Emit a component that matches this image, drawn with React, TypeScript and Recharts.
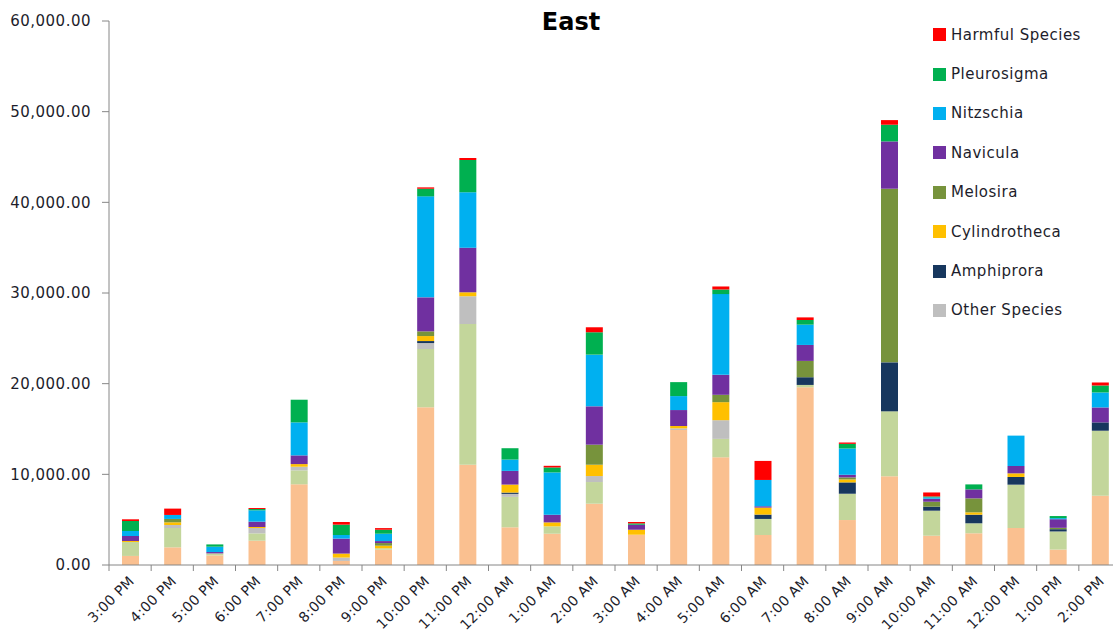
import React from 'react';
import { BarChart, Bar, XAxis, YAxis } from 'recharts';

// hourly sampling slots, East station
const hours = [
  '3:00 PM', '4:00 PM', '5:00 PM', '6:00 PM', '7:00 PM', '8:00 PM', '9:00 PM', '10:00 PM',
  '11:00 PM', '12:00 AM', '1:00 AM', '2:00 AM', '3:00 AM', '4:00 AM', '5:00 AM', '6:00 AM',
  '7:00 AM', '8:00 AM', '9:00 AM', '10:00 AM', '11:00 AM', '12:00 PM', '1:00 PM', '2:00 PM',
];

// cell counts per series, bottom of the stack first
const groupA = [1000, 1950, 1060, 2680, 8900, 450, 1690, 17390, 11060, 4160, 3450, 6760, 3340, 14890, 11880, 3310, 19600, 4960, 9780, 3230, 3500, 4080, 1700, 7640];
const groupB = [1540, 2130, 220, 810, 1540, 0, 150, 6430, 15520, 3350, 810, 2390, 0, 0, 2030, 1770, 260, 2900, 7170, 2760, 1100, 4780, 2000, 7170];
const otherSpecies = [0, 330, 0, 590, 400, 370, 0, 660, 3060, 330, 0, 660, 0, 180, 2060, 0, 0, 0, 0, 0, 0, 0, 0, 0];
const amphiprora = [0, 0, 0, 0, 0, 0, 0, 220, 0, 150, 0, 0, 0, 0, 0, 480, 850, 1250, 5400, 440, 950, 850, 250, 920];
const cylindrotheca = [110, 300, 0, 110, 290, 440, 290, 550, 440, 880, 440, 1250, 550, 260, 1990, 770, 0, 330, 0, 0, 260, 400, 0, 0];
const melosira = [0, 370, 0, 0, 0, 0, 290, 520, 0, 0, 0, 2210, 0, 0, 810, 0, 1800, 220, 19150, 550, 1540, 0, 150, 0];
const navicula = [550, 0, 150, 590, 960, 1650, 220, 3750, 4920, 1510, 840, 4230, 550, 1760, 2210, 150, 1760, 290, 5220, 330, 990, 810, 950, 1650];
const nitzschia = [550, 440, 590, 1250, 3640, 400, 810, 11140, 6110, 1250, 4670, 5700, 0, 1540, 8900, 2900, 2240, 2900, 0, 150, 0, 3350, 120, 1650];
const pleurosigma = [1100, 0, 250, 150, 2500, 1140, 440, 840, 3560, 1250, 550, 2470, 150, 1540, 510, 0, 510, 510, 1840, 100, 550, 0, 230, 770];
const harmful = [190, 700, 0, 110, 0, 290, 180, 150, 220, 0, 180, 550, 150, 0, 330, 2100, 290, 150, 510, 440, 0, 0, 0, 330];

const series = [
  { key: 'groupA', name: 'Group A', color: '#FAC090', values: groupA, legend: false },
  { key: 'groupB', name: 'Group B', color: '#C3D69B', values: groupB, legend: false },
  { key: 'other', name: 'Other Species', color: '#BFBFBF', values: otherSpecies, legend: true },
  { key: 'amphiprora', name: 'Amphiprora', color: '#17375E', values: amphiprora, legend: true },
  { key: 'cylindrotheca', name: 'Cylindrotheca', color: '#FFC000', values: cylindrotheca, legend: true },
  { key: 'melosira', name: 'Melosira', color: '#77933C', values: melosira, legend: true },
  { key: 'navicula', name: 'Navicula', color: '#7030A0', values: navicula, legend: true },
  { key: 'nitzschia', name: 'Nitzschia', color: '#00B0F0', values: nitzschia, legend: true },
  { key: 'pleurosigma', name: 'Pleurosigma', color: '#00B050', values: pleurosigma, legend: true },
  { key: 'harmful', name: 'Harmful Species', color: '#FF0000', values: harmful, legend: true },
];

const yTicks = [0, 10000, 20000, 30000, 40000, 50000, 60000];

const rows = hours.map((hour, i) => {
  const row: Record<string, string | number> = { hour };
  series.forEach((s) => {
    row[s.key] = s.values[i];
  });
  return row;
});

const FONT = '"DejaVu Sans", Verdana, sans-serif';
const TEXT = '#1d1d2b';
const AXIS = '#868686';
const STEP = 1012 / hours.length;

const fmt = (v: number) =>
  v.toLocaleString('en-US', { minimumFractionDigits: 2, maximumFractionDigits: 2 });

// category label rotated 45deg, plus a tick mark on the left edge of each slot
const HourTick = (props: any) => {
  const { x, y, payload, index } = props;
  const left = x - STEP / 2;
  const tx = x + 5;
  const ty = y + 9;
  return (
    <g>
      <line x1={left} y1={y - 8} x2={left} y2={y - 2} stroke={AXIS} />
      {index === hours.length - 1 && (
        <line x1={left + STEP} y1={y - 8} x2={left + STEP} y2={y - 2} stroke={AXIS} />
      )}
      <text
        x={tx}
        y={ty}
        textAnchor="end"
        fontSize={14}
        letterSpacing={0.3}
        fontFamily={FONT}
        fill={TEXT}
        transform={`rotate(-45, ${tx}, ${ty})`}
      >
        {payload.value}
      </text>
    </g>
  );
};

export default function App() {
  const legendItems = series.filter((s) => s.legend).reverse();
  return (
    <div style={{ position: 'absolute', left: 0, top: 0, width: 1113, height: 633, overflow: 'hidden', background: '#fff' }}>
      <BarChart
        width={1121}
        height={633}
        data={rows}
        margin={{ top: 21, right: 0, left: 8, bottom: 0 }}
      >
        <XAxis
          dataKey="hour"
          interval={0}
          height={68}
          tickLine={false}
          axisLine={{ stroke: AXIS }}
          tick={<HourTick />}
        />
        <YAxis
          width={101}
          domain={[0, 60000]}
          ticks={yTicks}
          tickFormatter={fmt}
          tickSize={7}
          tickMargin={11}
          tickLine={{ stroke: AXIS }}
          axisLine={{ stroke: AXIS }}
          tick={{ fontSize: 15, fontFamily: FONT, fill: TEXT, letterSpacing: 0.5 }}
        />
        {series.map((s) => (
          <Bar
            key={s.key}
            dataKey={s.key}
            name={s.name}
            stackId="cells"
            fill={s.color}
            barSize={17}
            isAnimationActive={false}
          />
        ))}
      </BarChart>

      <div
        style={{
          position: 'absolute',
          left: 471,
          top: 8,
          width: 200,
          textAlign: 'center',
          fontFamily: FONT,
          fontWeight: 'bold',
          fontSize: 24,
          color: '#000',
        }}
      >
        East
      </div>

      <div style={{ position: 'absolute', left: 933, top: 15, fontFamily: FONT, fontSize: 15, color: TEXT, letterSpacing: 0.5 }}>
        {legendItems.map((s) => (
          <div key={s.key} style={{ display: 'flex', alignItems: 'center', height: 39.4 }}>
            <span style={{ width: 13, height: 13, background: s.color, marginRight: 5, display: 'inline-block', flex: 'none' }} />
            <span style={{ lineHeight: '18px', whiteSpace: 'nowrap' }}>{s.name}</span>
          </div>
        ))}
      </div>
    </div>
  );
}
